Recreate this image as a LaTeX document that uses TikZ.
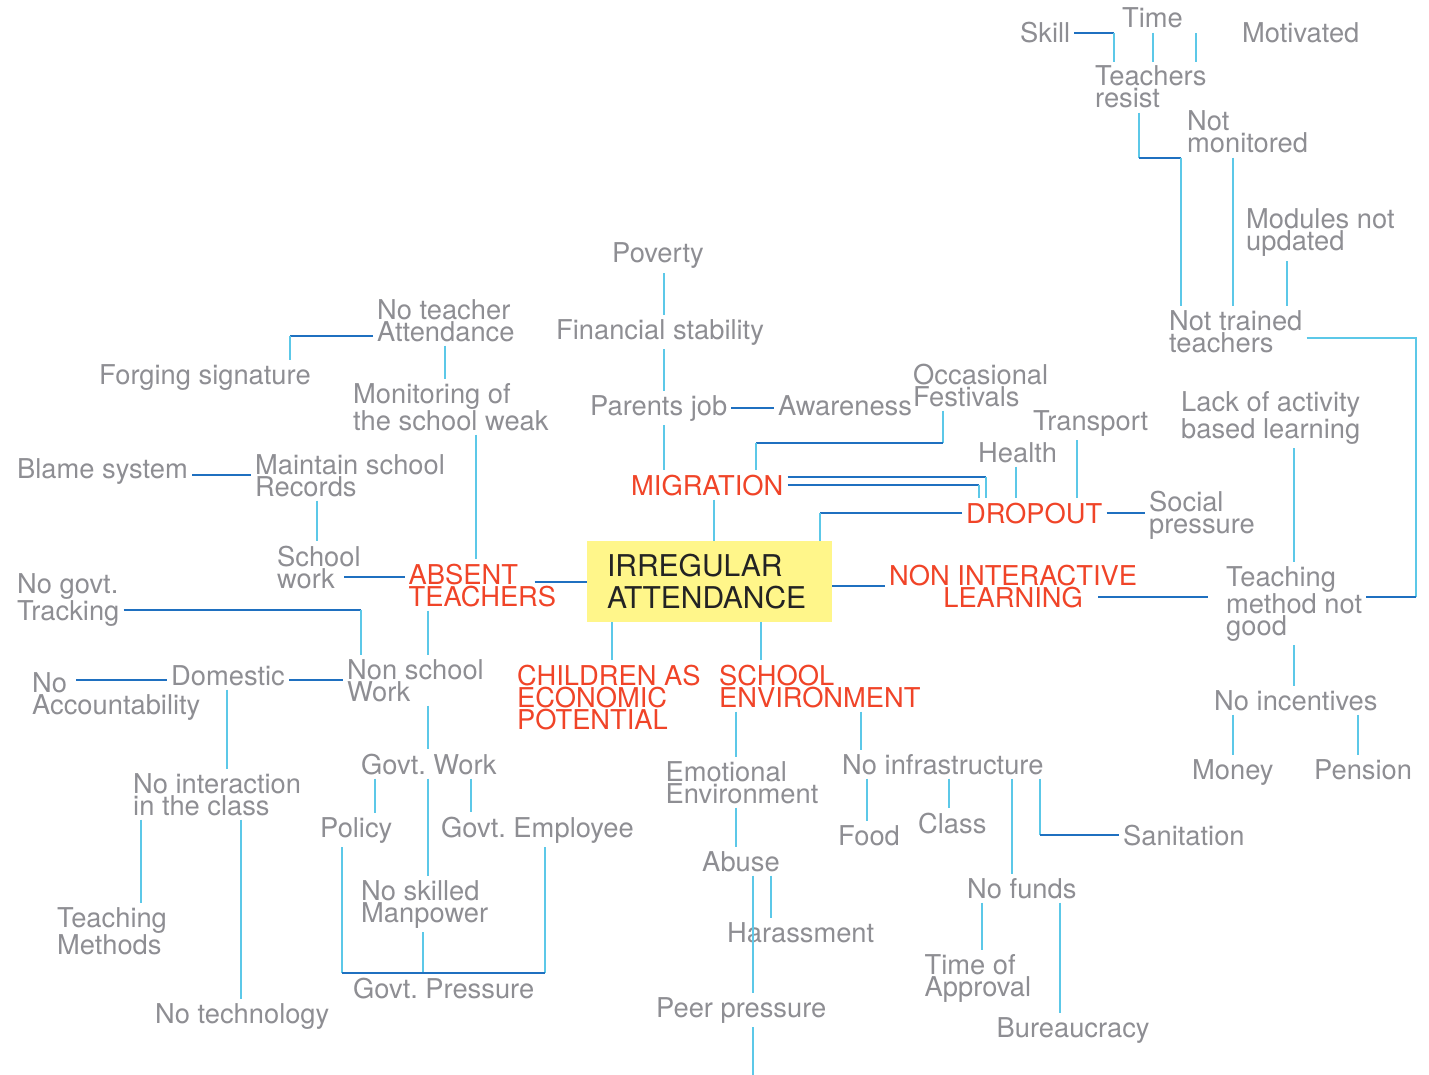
\documentclass[tikz,border=0pt]{standalone}
\usepackage{fontspec}
\setmainfont{TeX Gyre Heros}
\usepackage{tikz}
\definecolor{txtgray}{RGB}{142,142,147}
\definecolor{keyred}{RGB}{240,68,40}
\definecolor{linedark}{RGB}{31,112,192}
\definecolor{linelight}{RGB}{92,200,232}
\definecolor{boxyellow}{RGB}{255,246,138}
\definecolor{inkblack}{RGB}{35,35,35}
\frenchspacing

\begin{document}
\begin{tikzpicture}[x=1pt,y=-1pt,
	txt/.style={text=txtgray,font=\fontsize{27.3}{22}\selectfont,align=left,anchor=base west,inner sep=4pt},
	key/.style={txt,text=keyred},
	core/.style={fill=boxyellow,text=inkblack,font=\fontsize{30}{32}\selectfont,align=left,text width=205pt,inner xsep=20pt,minimum width=245pt,minimum height=81pt},
	hl/.style={draw=linedark,line width=2pt},
	vl/.style={draw=linelight,line width=2pt}]
	\useasboundingbox (0,0) rectangle (1429,1075);
	\node[txt] (skill) at (1016,43) {Skill};
	\node[txt] (time) at (1118,28) {Time};
	\node[txt] (motiv) at (1238,43) {Motivated};
	\node[txt] (tres) at (1091,108) {Teachers\\resist};
	\node[txt] (notmon) at (1183,153) {Not\\monitored};
	\node[txt] (modules) at (1242,251) {Modules not\\updated};
	\node[txt] (nottr) at (1165,352) {Not trained\\teachers};
	\node[txt] (noteach) at (373,341) {No teacher\\Attendance};
	\node[txt] (forging) at (95,384) {Forging signature};
	\node[txt] (monit) at (349,430) {Monitoring of\\the school weak};
	\node[txt] (blame) at (13,478) {Blame system};
	\node[txt] (maintain) at (251,496) {Maintain school\\Records};
	\node[txt] (schoolw) at (273,588) {School\\work};
	\node[key] (absent) at (404.5,606) {ABSENT\\TEACHERS};
	\node[txt] (poverty) at (608,263) {Poverty};
	\node[txt] (finance) at (552,339) {Financial stability};
	\node[txt] (parents) at (586,415) {Parents job};
	\node[txt] (aware) at (774,415) {Awareness};
	\node[txt] (festiv) at (909,406) {Occasional\\Festivals};
	\node[key] (migr) at (627,495) {MIGRATION};
	\node[txt] (health) at (974,462) {Health};
	\node[txt] (transp) at (1029,430) {Transport};
	\node[key] (dropout) at (962,523) {DROPOUT};
	\node[txt] (social) at (1145,533) {Social\\pressure};
	\node[txt] (lack) at (1177,438) {Lack of activity\\based learning};
	\node[key,align=center] (nonint) at (885,607) {NON INTERACTIVE\\LEARNING};
	\node[txt] (teachm) at (1222,635) {Teaching\\method not\\good};
	\node[txt] (noinc) at (1210,710) {No incentives};
	\node[txt] (money) at (1188,779) {Money};
	\node[txt] (pension) at (1310,779) {Pension};
	\node[core] (irr) at (709.5,581.5) {IRREGULAR\\ATTENDANCE};
	\node[txt] (nogovt) at (13,620) {No govt.\\Tracking};
	\node[txt] (nonsch) at (343,701) {Non school\\Work};
	\node[txt] (noacc) at (28,714) {No\\Accountability};
	\node[txt] (domestic) at (167,685) {Domestic};
	\node[txt] (nointer) at (129,815) {No interaction\\in the class};
	\node[txt] (teachmeth) at (53,954) {Teaching\\Methods};
	\node[txt] (notech) at (151,1023) {No technology};
	\node[txt] (govtw) at (357,774) {Govt. Work};
	\node[txt] (policy) at (316,837) {Policy};
	\node[txt] (govtemp) at (437,837) {Govt. Employee};
	\node[txt] (noskill) at (357,922) {No skilled\\Manpower};
	\node[txt] (govtpr) at (349,998) {Govt. Pressure};
	\node[key] (children) at (513,729) {CHILDREN AS\\ECONOMIC\\POTENTIAL};
	\node[key] (schenv) at (715,707) {SCHOOL\\ENVIRONMENT};
	\node[txt] (emot) at (661.5,803) {Emotional\\Environment};
	\node[txt] (noinfra) at (838,774) {No infrastructure};
	\node[txt] (abuse) at (698,871) {Abuse};
	\node[txt] (harass) at (723,942) {Harassment};
	\node[txt] (peer) at (652,1017) {Peer pressure};
	\node[txt] (food) at (834,845) {Food};
	\node[txt] (class) at (914,833) {Class};
	\node[txt] (sanit) at (1119,845) {Sanitation};
	\node[txt] (nofunds) at (963,898) {No funds};
	\node[txt] (timeapp) at (920.5,996) {Time of\\Approval};
	\node[txt] (bureau) at (992.5,1037) {Bureaucracy};

	\coordinate (c1) at ([xshift=23pt]tres.north west |- skill.east);
	\draw[hl] (skill.east) -- (c1);
	\draw[vl] (c1) -- (c1 |- tres.north);
	\draw[vl] (time.south) -- (time.south |- tres.north);
	\draw[vl] ([xshift=105pt]tres.north west) -- ([xshift=105pt]tres.north west |- motiv.west);
	\coordinate (c2) at ([xshift=48pt]tres.south west |- notmon.south);
	\coordinate (c3) at ([xshift=16pt]nottr.north west |- notmon.south);
	\draw[vl] ([xshift=48pt]tres.south west) -- (c2);
	\draw[hl] (c2) -- (c3);
	\draw[vl] (c3) -- (c3 |- nottr.north);
	\draw[vl] ([xshift=50pt]notmon.south west) -- ([xshift=50pt]notmon.south west |- nottr.north);
	\draw[vl] ([xshift=45pt]modules.south west) -- ([xshift=45pt]modules.south west |- nottr.north);
	\coordinate (c4) at ([xshift=50pt,yshift=7pt]teachm.east);
	\draw[vl] ([yshift=-7pt]nottr.east) -| (c4);
	\draw[hl] (c4) -- (c4 -| teachm.east);

	\coordinate (c5) at ([yshift=-16pt]noteach.west);
	\coordinate (c6) at ([xshift=195pt]forging.north west |- c5);
	\draw[hl] (c5) -- (c6);
	\draw[vl] (c6) -- (c6 |- forging.north);
	\draw[vl] ([xshift=72pt]noteach.south west) -- ([xshift=72pt]noteach.south west |- monit.north);
	\draw[vl] ([xshift=127pt]monit.south west) -- ([xshift=127pt]monit.south west |- absent.north);
	\draw[hl] (maintain.west -| blame.east) -- (maintain.west);
	\draw[vl] ([xshift=65.5pt]maintain.south west) -- ([xshift=65.5pt]maintain.south west |- schoolw.north);
	\coordinate (c7) at ([xshift=71pt,yshift=16pt]schoolw.south west);
	\draw[hl] (c7) -- (c7 -| absent.west);
	\draw[hl] ([xshift=130pt]absent.west |- irr.west) -- (irr.west);

	\draw[vl] ([xshift=56pt]poverty.south west) -- ([xshift=56pt]poverty.south west |- finance.north);
	\draw[vl] ([xshift=112pt]finance.south west) -- ([xshift=112pt]finance.south west |- parents.north);
	\draw[hl] (parents.east) -- (parents.east -| aware.west);
	\draw[vl] ([xshift=78pt]parents.south west) -- ([xshift=78pt]parents.south west |- migr.north);
	\coordinate (c8) at ([xshift=34pt,yshift=-32pt]festiv.south west);
	\coordinate (c9) at ([xshift=129pt]migr.north west |- c8);
	\draw[vl] (c8 |- festiv.south) -- (c8);
	\draw[hl] (c8) -- (c9);
	\draw[vl] (c9) -- (c9 |- migr.north);
	\draw[vl] ([xshift=87pt]migr.south west) -- ([xshift=87pt]migr.south west |- irr.north);
	\coordinate (c10) at ([yshift=8pt]migr.east);
	\coordinate (c11) at ([xshift=24pt]dropout.north west |- c10);
	\coordinate (c12) at ([xshift=17pt]dropout.north west |- migr.east);
	\draw[hl] (c10) -- (c11);
	\draw[vl] (c11) -- (c11 |- dropout.north);
	\draw[hl] (migr.east) -- (c12);
	\draw[vl] (c12) -- (c12 |- dropout.north);
	\draw[vl] ([xshift=42pt]health.south west) -- ([xshift=42pt]health.south west |- dropout.north);
	\draw[vl] ([xshift=48pt]transp.south west) -- ([xshift=48pt]transp.south west |- dropout.north);
	\coordinate (c13) at ([xshift=-12pt]irr.north east |- dropout.west);
	\draw[hl] (dropout.west) -- (c13);
	\draw[vl] (c13) -- (c13 |- irr.north);
	\draw[hl] (dropout.east) -- (dropout.east -| social.west);
	\draw[vl] ([xshift=117pt]lack.south west) -- ([xshift=117pt]lack.south west |- teachm.north);
	\draw[hl] (nonint.west -| irr.east) -- (nonint.west);
	\draw[hl,shorten >=14pt] ([xshift=-43pt]nonint.east |- c4) -- (c4 -| teachm.west);
	\draw[vl] ([xshift=72pt]teachm.south west) -- ([xshift=72pt]teachm.south west |- noinc.north);
	\draw[vl] ([xshift=23pt]noinc.south west) -- ([xshift=23pt]noinc.south west |- money.north);
	\draw[vl] ([xshift=148pt]noinc.south west) -- ([xshift=148pt]noinc.south west |- pension.north);

	\coordinate (c14) at ([yshift=-10pt]nogovt.east);
	\coordinate (c15) at ([xshift=18pt]nonsch.north west |- c14);
	\draw[hl] (c14) -- (c15);
	\draw[vl] (c15) -- (c15 |- nonsch.north);
	\draw[vl] ([xshift=23.5pt]absent.south west) -- ([xshift=23.5pt]absent.south west |- nonsch.north);
	\coordinate (c16) at ([xshift=48pt,yshift=-12pt]noacc.north west);
	\draw[hl] (c16) -- (c16 -| domestic.west);
	\draw[hl] (c16 -| domestic.east) -- (c16 -| nonsch.west);
	\draw[vl] ([xshift=60pt]domestic.south west) -- ([xshift=60pt]domestic.south west |- nointer.north);
	\draw[vl] ([xshift=12pt]nointer.south west) -- ([xshift=12pt]nointer.south west |- teachmeth.north);
	\draw[vl] ([xshift=112pt]nointer.south west) -- ([xshift=112pt]nointer.south west |- notech.north);
	\draw[vl] ([xshift=85pt]nonsch.south west) -- ([xshift=85pt]nonsch.south west |- govtw.north);
	\draw[vl] ([xshift=18pt]govtw.south west) -- ([xshift=18pt]govtw.south west |- policy.north);
	\draw[vl] ([xshift=114pt]govtw.south west) -- ([xshift=114pt]govtw.south west |- govtemp.north);
	\draw[vl] ([xshift=71pt]govtw.south west) -- ([xshift=71pt]govtw.south west |- noskill.north);
	\coordinate (c17) at ([xshift=26pt]policy.south west |- govtpr.north);
	\coordinate (c18) at ([xshift=108pt]govtemp.south west |- govtpr.north);
	\draw[vl] ([xshift=26pt]policy.south west) -- (c17);
	\draw[vl] ([xshift=108pt]govtemp.south west) -- (c18);
	\draw[vl] ([xshift=66pt]noskill.south west) -- ([xshift=66pt]noskill.south west |- c17);
	\draw[hl] (c17) -- (c18);

	\draw[vl] ([xshift=25pt]irr.south west) -- ([xshift=25pt]irr.south west |- children.north);
	\draw[vl] ([xshift=174pt]irr.south west) -- ([xshift=174pt]irr.south west |- schenv.north);
	\draw[vl] ([xshift=21pt]schenv.south west) -- ([xshift=21pt]schenv.south west |- emot.north);
	\draw[vl] ([xshift=146pt]schenv.south west) -- ([xshift=146pt]schenv.south west |- noinfra.north);
	\draw[vl] ([xshift=74.5pt]emot.south west) -- ([xshift=74.5pt]emot.south west |- abuse.north);
	\draw[vl] ([xshift=72.5pt]abuse.south west) -- ([xshift=72.5pt]abuse.south west |- harass.north);
	\draw[vl] ([xshift=55pt]abuse.south west) -- ([xshift=55pt]abuse.south west |- peer.north);
	\coordinate (peerend) at ([xshift=101pt,yshift=-50pt]peer.south west);
	\draw[vl] ([xshift=101pt]peer.south west) -- (peerend);
	\draw[vl] ([xshift=29pt]noinfra.south west) -- ([xshift=29pt]noinfra.south west |- food.north);
	\draw[vl] ([xshift=110.5pt]noinfra.south west) -- ([xshift=110.5pt]noinfra.south west |- class.north);
	\draw[vl] ([xshift=174pt]noinfra.south west) -- ([xshift=174pt]noinfra.south west |- nofunds.north);
	\coordinate (c19) at ([xshift=202pt]noinfra.south west |- sanit.west);
	\draw[vl] ([xshift=202pt]noinfra.south west) -- (c19);
	\draw[hl] (c19) -- (sanit.west);
	\draw[vl] ([xshift=19pt]nofunds.south west) -- ([xshift=19pt]nofunds.south west |- timeapp.north);
	\draw[vl] ([xshift=96.5pt]nofunds.south west) -- ([xshift=96.5pt]nofunds.south west |- bureau.north);
\end{tikzpicture}
\end{document}
